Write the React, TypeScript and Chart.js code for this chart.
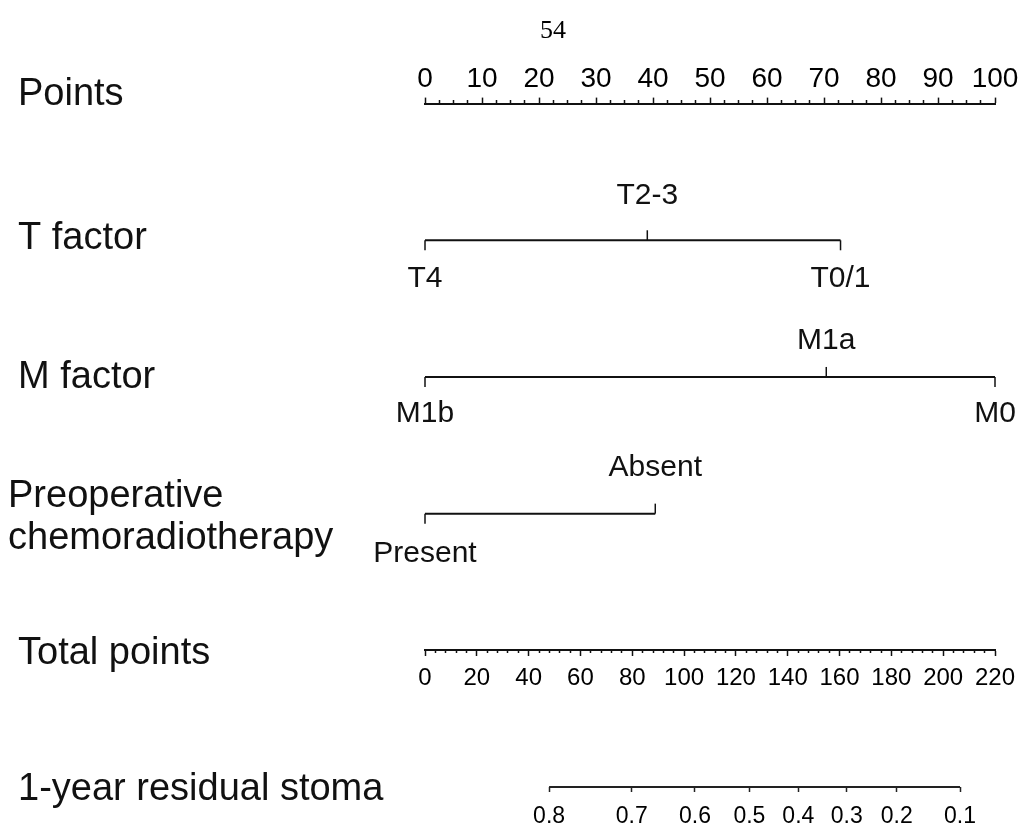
import React, { useEffect, useRef } from 'react';
import { Chart, registerables } from 'chart.js';

Chart.register(...registerables);

// Row captions, top to bottom
const rowNames: (string | string[])[] = [
  'Points',
  'T factor',
  'M factor',
  ['Preoperative', 'chemoradiotherapy'],
  'Total points',
  '1-year residual stoma',
];

const pageNumber = '54';

// Points ruler
const pointsTicks = [0, 10, 20, 30, 40, 50, 60, 70, 80, 90, 100];
const pointsMinorStep = 2.5;

// Predictor levels and their points
const tLevels = ['T4', 'T2-3', 'T0/1'];
const tPoints = [0, 39.0, 72.9];
const mLevels = ['M1b', 'M1a', 'M0'];
const mPoints = [0, 70.4, 100];
const crtLevels = ['Present', 'Absent'];
const crtPoints = [0, 40.4];

// Total points ruler
const totalTicks = [0, 20, 40, 60, 80, 100, 120, 140, 160, 180, 200, 220];
const totalMinorStep = 4;

// Probability scale, placed on the total-points axis
const stomaLabels = ['0.8', '0.7', '0.6', '0.5', '0.4', '0.3', '0.2', '0.1'];
const stomaTotals = [47.9, 79.8, 104.2, 125.2, 144.1, 162.8, 182.1, 206.5];

const INK = '#111111';
const SANS = '"Liberation Sans", Arial, Helvetica, sans-serif';
const SERIF = '"Liberation Serif", "Times New Roman", serif';

const factors = [
  { row: 1, levels: tLevels, points: tPoints, above: 45, below: 38 },
  { row: 2, levels: mLevels, points: mPoints, above: 36, below: 37 },
  { row: 3, levels: crtLevels, points: crtPoints, above: 46, below: 40 },
];

const captionShift = [-9, -2, 1, 0, 3, 3];

const isMultiple = (v: number, step: number) =>
  Math.abs(v / step - Math.round(v / step)) < 1e-6;

const rangeTicks = (max: number, step: number) => {
  const out: { value: number }[] = [];
  for (let v = 0; v <= max + 1e-9; v += step) out.push({ value: Math.round(v * 1000) / 1000 });
  return out;
};

// Tick marks and level labels for each predictor row
const factorPlugin = {
  id: 'factorScales',
  afterDatasetsDraw(chart: any) {
    const { ctx, scales } = chart;
    const x = scales.x;
    const y = scales.y;
    ctx.save();
    ctx.strokeStyle = INK;
    ctx.fillStyle = INK;
    ctx.lineWidth = 1.5;
    ctx.font = `30px ${SANS}`;
    ctx.textAlign = 'center';
    ctx.textBaseline = 'middle';
    factors.forEach((f) => {
      const py = y.getPixelForValue(f.row);
      f.points.forEach((p, i) => {
        const px = x.getPixelForValue(p);
        const below = i % 2 === 0;
        ctx.beginPath();
        ctx.moveTo(px, py);
        ctx.lineTo(px, py + (below ? 10 : -10));
        ctx.stroke();
        ctx.fillText(f.levels[i], px, py + (below ? f.below : -f.above));
      });
    });
    ctx.restore();
  },
};

// Captions on the left of each row, plus the page number at the top
const captionPlugin = {
  id: 'rowCaptions',
  afterDraw(chart: any) {
    const { ctx, scales } = chart;
    const y = scales.y;
    ctx.save();
    ctx.fillStyle = INK;
    ctx.font = `38px ${SANS}`;
    ctx.textAlign = 'left';
    ctx.textBaseline = 'middle';
    rowNames.forEach((name, i) => {
      const py = y.getPixelForValue(i) + captionShift[i];
      if (Array.isArray(name)) {
        ctx.fillText(name[0], 8, py - 17);
        ctx.fillText(name[1], 8, py + 25);
      } else {
        ctx.fillText(name, 18, py);
      }
    });
    ctx.fillStyle = '#000';
    ctx.font = `26px ${SERIF}`;
    ctx.textAlign = 'center';
    ctx.fillText(pageNumber, 553, 31);
    ctx.restore();
  },
};

export default function App() {
  const canvasRef = useRef<HTMLCanvasElement | null>(null);

  useEffect(() => {
    const canvas = canvasRef.current;
    if (!canvas) return;

    const datasets: any[] = factors.map((f) => ({
      data: f.points.map((p) => ({ x: p, y: f.row })),
      xAxisID: 'x',
      yAxisID: 'y',
      borderColor: INK,
      borderWidth: 2,
      pointRadius: 0,
      tension: 0,
      clip: false,
    }));
    datasets.push({
      data: [
        { x: stomaTotals[0], y: 5 },
        { x: stomaTotals[stomaTotals.length - 1], y: 5 },
      ],
      xAxisID: 'xStoma',
      yAxisID: 'y',
      borderColor: '#222222',
      borderWidth: 2,
      pointRadius: 0,
      tension: 0,
      clip: false,
    });

    const chart = new Chart(canvas, {
      type: 'line',
      data: { datasets },
      options: {
        animation: false,
        responsive: false,
        maintainAspectRatio: false,
        events: [],
        layout: { padding: { left: 425, right: 37, top: 60, bottom: 40 } },
        plugins: {
          legend: { display: false },
          tooltip: { enabled: false },
          title: { display: false },
        },
        scales: {
          x: {
            type: 'linear',
            position: 'top',
            min: 0,
            max: 100,
            afterBuildTicks: (scale: any) => {
              scale.ticks = rangeTicks(100, pointsMinorStep);
            },
            ticks: {
              autoSkip: false,
              maxRotation: 0,
              minRotation: 0,
              padding: 2,
              color: '#000',
              font: { family: SANS, size: 28 },
              callback: (v: any) =>
                pointsTicks.includes(Number(v)) ? String(v) : '',
            },
            grid: {
              drawOnChartArea: false,
              tickLength: 6,
              tickWidth: 1.5,
              tickColor: INK,
              tickBorderDash: (c: any) =>
                c.tick && isMultiple(c.tick.value, 10) ? [] : [0, 2.5, 3, 100],
            },
            border: { display: true, color: INK, width: 2 },
          },
          xTotal: {
            type: 'linear',
            axis: 'x',
            position: { y: 4 },
            min: 0,
            max: 220,
            afterBuildTicks: (scale: any) => {
              scale.ticks = rangeTicks(220, totalMinorStep);
            },
            ticks: {
              autoSkip: false,
              maxRotation: 0,
              minRotation: 0,
              padding: 9,
              color: '#000',
              font: { family: SANS, size: 24 },
              callback: (v: any) =>
                totalTicks.includes(Number(v)) ? String(v) : '',
            },
            grid: {
              drawOnChartArea: false,
              tickLength: 5,
              tickWidth: 1.5,
              tickColor: INK,
              tickBorderDash: (c: any) =>
                c.tick && isMultiple(c.tick.value, 20) ? [] : [2, 100],
            },
            border: { display: true, color: INK, width: 2 },
          },
          xStoma: {
            type: 'linear',
            axis: 'x',
            position: { y: 5 },
            min: 0,
            max: 220,
            afterBuildTicks: (scale: any) => {
              scale.ticks = stomaTotals.map((v) => ({ value: v }));
            },
            ticks: {
              autoSkip: false,
              maxRotation: 0,
              minRotation: 0,
              padding: 11,
              color: '#000',
              font: { family: SANS, size: 23 },
              callback: (_v: any, i: number) => stomaLabels[i],
            },
            grid: {
              drawOnChartArea: false,
              tickLength: 5,
              tickWidth: 1.5,
              tickColor: '#222222',
            },
            border: { display: false },
          },
          y: {
            type: 'linear',
            min: 0,
            max: 5,
            reverse: true,
            display: false,
          },
        },
      } as any,
      plugins: [factorPlugin, captionPlugin],
    });

    return () => chart.destroy();
  }, []);

  return (
    <div
      style={{
        position: 'fixed',
        left: 0,
        top: 0,
        width: 1032,
        height: 827,
        background: '#fff',
      }}
    >
      <canvas
        ref={canvasRef}
        width={1032}
        height={827}
        style={{ position: 'absolute', left: 0, top: 0, width: 1032, height: 827 }}
      />
    </div>
  );
}
